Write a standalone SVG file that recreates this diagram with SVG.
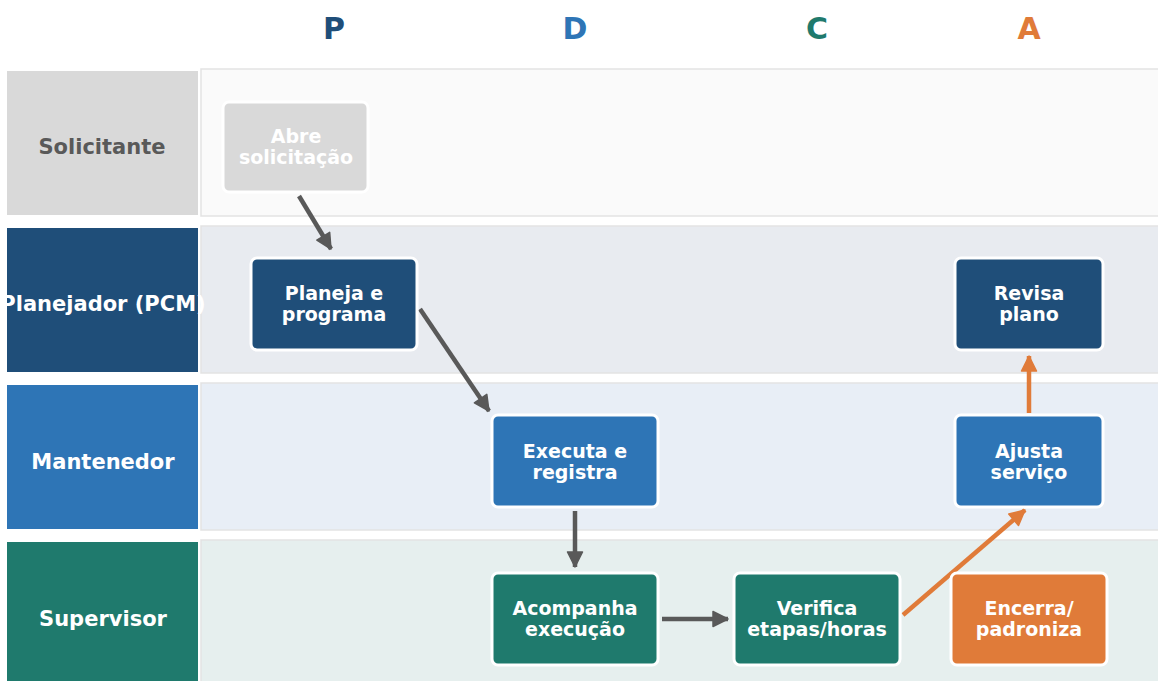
<svg xmlns="http://www.w3.org/2000/svg" width="1158" height="681" viewBox="0 0 1158 681">
  <defs>
    <style>
      text { font-family: "DejaVu Sans", "Liberation Sans", sans-serif; font-weight: bold; text-anchor: middle; }
      .hdr { font-size: 30px; }
      .lane-bg { stroke: #e3e3e3; stroke-width: 1.5; }
      .lane-lbl { font-size: 21px; fill: #ffffff; }
      .node rect { stroke: #ffffff; stroke-width: 3; }
      .node text { font-size: 19px; fill: #ffffff; }
      .flow { fill: none; stroke: #595959; stroke-width: 4.5; }
      .flow.act { stroke: #e07b39; }
      .head { stroke-width: 1.5; stroke-linejoin: round; }
    </style>
    <marker id="ah-gray" markerUnits="userSpaceOnUse" markerWidth="20" markerHeight="20" refX="16" refY="9" orient="auto" overflow="visible">
      <path class="head" d="M1,1.5 L16,9 L1,16.5 z" fill="#595959" stroke="#595959"/>
    </marker>
    <marker id="ah-orange" markerUnits="userSpaceOnUse" markerWidth="20" markerHeight="20" refX="16" refY="9" orient="auto" overflow="visible">
      <path class="head" d="M1,1.5 L16,9 L1,16.5 z" fill="#e07b39" stroke="#e07b39"/>
    </marker>
  </defs>

  <rect width="1158" height="681" fill="#ffffff"/>

  <!-- PDCA phase headers -->
  <g id="phases">
    <text class="hdr" x="334" y="39" fill="#1f4e79">P</text>
    <text class="hdr" x="575" y="39" fill="#2e75b6">D</text>
    <text class="hdr" x="817" y="39" fill="#1f7a6d">C</text>
    <text class="hdr" x="1029" y="39" fill="#e07b39">A</text>
  </g>

  <!-- Swimlanes -->
  <g id="lane-solicitante">
    <rect class="lane-bg" x="201" y="69" width="960" height="147" fill="#fafafa"/>
    <rect x="7" y="71" width="191" height="144" fill="#d9d9d9"/>
    <text class="lane-lbl" x="102" y="154" style="fill:#595959">Solicitante</text>
  </g>
  <g id="lane-planejador">
    <rect class="lane-bg" x="201" y="226" width="960" height="147" fill="#e8ebf0"/>
    <rect x="7" y="228" width="191" height="144" fill="#1f4e79"/>
    <text class="lane-lbl" x="103" y="311">Planejador (PCM)</text>
  </g>
  <g id="lane-mantenedor">
    <rect class="lane-bg" x="201" y="383" width="960" height="147" fill="#e8eef6"/>
    <rect x="7" y="385" width="191" height="144" fill="#2e75b6"/>
    <text class="lane-lbl" x="103" y="469">Mantenedor</text>
  </g>
  <g id="lane-supervisor">
    <rect class="lane-bg" x="201" y="540" width="960" height="147" fill="#e6efee"/>
    <rect x="7" y="542" width="191" height="144" fill="#1f7a6d"/>
    <text class="lane-lbl" x="103" y="626">Supervisor</text>
  </g>

  <!-- Connectors -->
  <g id="connectors">
    <line class="flow" x1="299" y1="196" x2="331" y2="249" marker-end="url(#ah-gray)"/>
    <line class="flow" x1="420" y1="309" x2="489" y2="411" marker-end="url(#ah-gray)"/>
    <line class="flow" x1="575" y1="511" x2="575" y2="567" marker-end="url(#ah-gray)"/>
    <line class="flow" x1="662" y1="619" x2="728" y2="619" marker-end="url(#ah-gray)"/>
    <line class="flow act" x1="903" y1="615" x2="1025" y2="510" marker-end="url(#ah-orange)"/>
    <line class="flow act" x1="1029" y1="413" x2="1029" y2="356" marker-end="url(#ah-orange)"/>
  </g>

  <!-- Activities -->
  <g id="n-abre" class="node">
    <rect x="223" y="102" width="145" height="90" rx="6" fill="#d9d9d9"/>
    <text x="296" y="143">Abre</text>
    <text x="296" y="164">solicitação</text>
  </g>
  <g id="n-planeja" class="node">
    <rect x="251" y="258" width="166" height="92" rx="6" fill="#1f4e79"/>
    <text x="334" y="300">Planeja e</text>
    <text x="334" y="321">programa</text>
  </g>
  <g id="n-executa" class="node">
    <rect x="492" y="415" width="166" height="92" rx="6" fill="#2e75b6"/>
    <text x="575" y="458">Executa e</text>
    <text x="575" y="479">registra</text>
  </g>
  <g id="n-acompanha" class="node">
    <rect x="492" y="573" width="166" height="92" rx="6" fill="#1f7a6d"/>
    <text x="575" y="615">Acompanha</text>
    <text x="575" y="636">execução</text>
  </g>
  <g id="n-verifica" class="node">
    <rect x="734" y="573" width="166" height="92" rx="6" fill="#1f7a6d"/>
    <text x="817" y="615">Verifica</text>
    <text x="817" y="636">etapas/horas</text>
  </g>
  <g id="n-revisa" class="node">
    <rect x="955" y="258" width="148" height="92" rx="6" fill="#1f4e79"/>
    <text x="1029" y="300">Revisa</text>
    <text x="1029" y="321">plano</text>
  </g>
  <g id="n-ajusta" class="node">
    <rect x="955" y="415" width="148" height="92" rx="6" fill="#2e75b6"/>
    <text x="1029" y="458">Ajusta</text>
    <text x="1029" y="479">serviço</text>
  </g>
  <g id="n-encerra" class="node">
    <rect x="951" y="573" width="156" height="92" rx="6" fill="#e07b39"/>
    <text x="1029" y="615">Encerra/</text>
    <text x="1029" y="636">padroniza</text>
  </g>
</svg>
